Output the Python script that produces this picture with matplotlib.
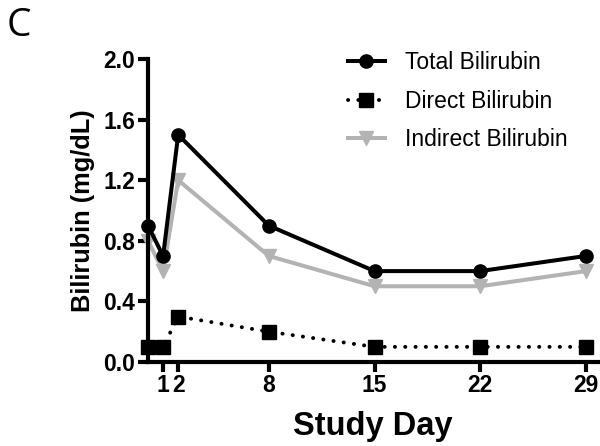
import matplotlib
matplotlib.use("Agg")
import matplotlib.pyplot as plt

days = [0, 1, 2, 8, 15, 22, 29]
total = [0.9, 0.7, 1.5, 0.9, 0.6, 0.6, 0.7]
direct = [0.1, 0.1, 0.3, 0.2, 0.1, 0.1, 0.1]
indirect = [0.8, 0.6, 1.2, 0.7, 0.5, 0.5, 0.6]
xticks = [1, 2, 8, 15, 22, 29]
yticks = [0.0, 0.4, 0.8, 1.2, 1.6, 2.0]

plt.rcParams['font.family'] = ['Liberation Sans', 'DejaVu Sans']

fig = plt.figure(figsize=(6.0, 4.46), dpi=100)
ax = fig.add_axes([148/600, 1-362/446, (598-148)/600, (362-59)/446])

gray = '#b3b3b3'
ax.plot(days, indirect, color=gray, lw=2.9, marker='v', ms=10.5, label='Indirect Bilirubin',
        zorder=2, clip_on=False)
ax.plot(days, total, color='black', lw=2.9, marker='o', ms=9.5, label='Total Bilirubin',
        zorder=3, clip_on=False)
ax.plot(days, direct, color='black', lw=2.8, ls=(0, (0.05, 2.6)), dash_capstyle='round',
        marker='s', ms=9.5, label='Direct Bilirubin', zorder=4, clip_on=False)

ax.set_xlim(0, 29.8)
ax.set_ylim(0, 2.0)
ax.set_xticks(xticks)
ax.set_xticklabels([str(t) for t in xticks], fontsize=16.5, fontweight='bold')
ax.set_yticks(yticks)
ax.set_yticklabels([f"{t:.1f}" for t in yticks], fontsize=16.5, fontweight='bold')
for s in ['top', 'right']:
    ax.spines[s].set_visible(False)
for s in ['left', 'bottom']:
    ax.spines[s].set_linewidth(3.0)
ax.tick_params(width=3.0, length=7, pad=2)
ax.set_xlabel('Study Day', fontsize=23.5, fontweight='bold', labelpad=10)
ax.set_ylabel('Bilirubin (mg/dL)', fontsize=18.3, fontweight='bold', labelpad=6)

h, l = ax.get_legend_handles_labels()
order = [1, 2, 0]
ax.legend([h[i] for i in order], [l[i] for i in order], frameon=False, fontsize=16.5,
          loc='upper left', bbox_to_anchor=(348/600, 1-51/446), bbox_transform=fig.transFigure,
          borderaxespad=0, borderpad=0, handlelength=1.6,
          labelspacing=0.68, handletextpad=0.87)

fig.text(0.011, 0.985, 'C', fontsize=28, va='top', ha='left', family=['Open Sans', 'DejaVu Sans'])

fig.savefig('out.png', dpi=100)
